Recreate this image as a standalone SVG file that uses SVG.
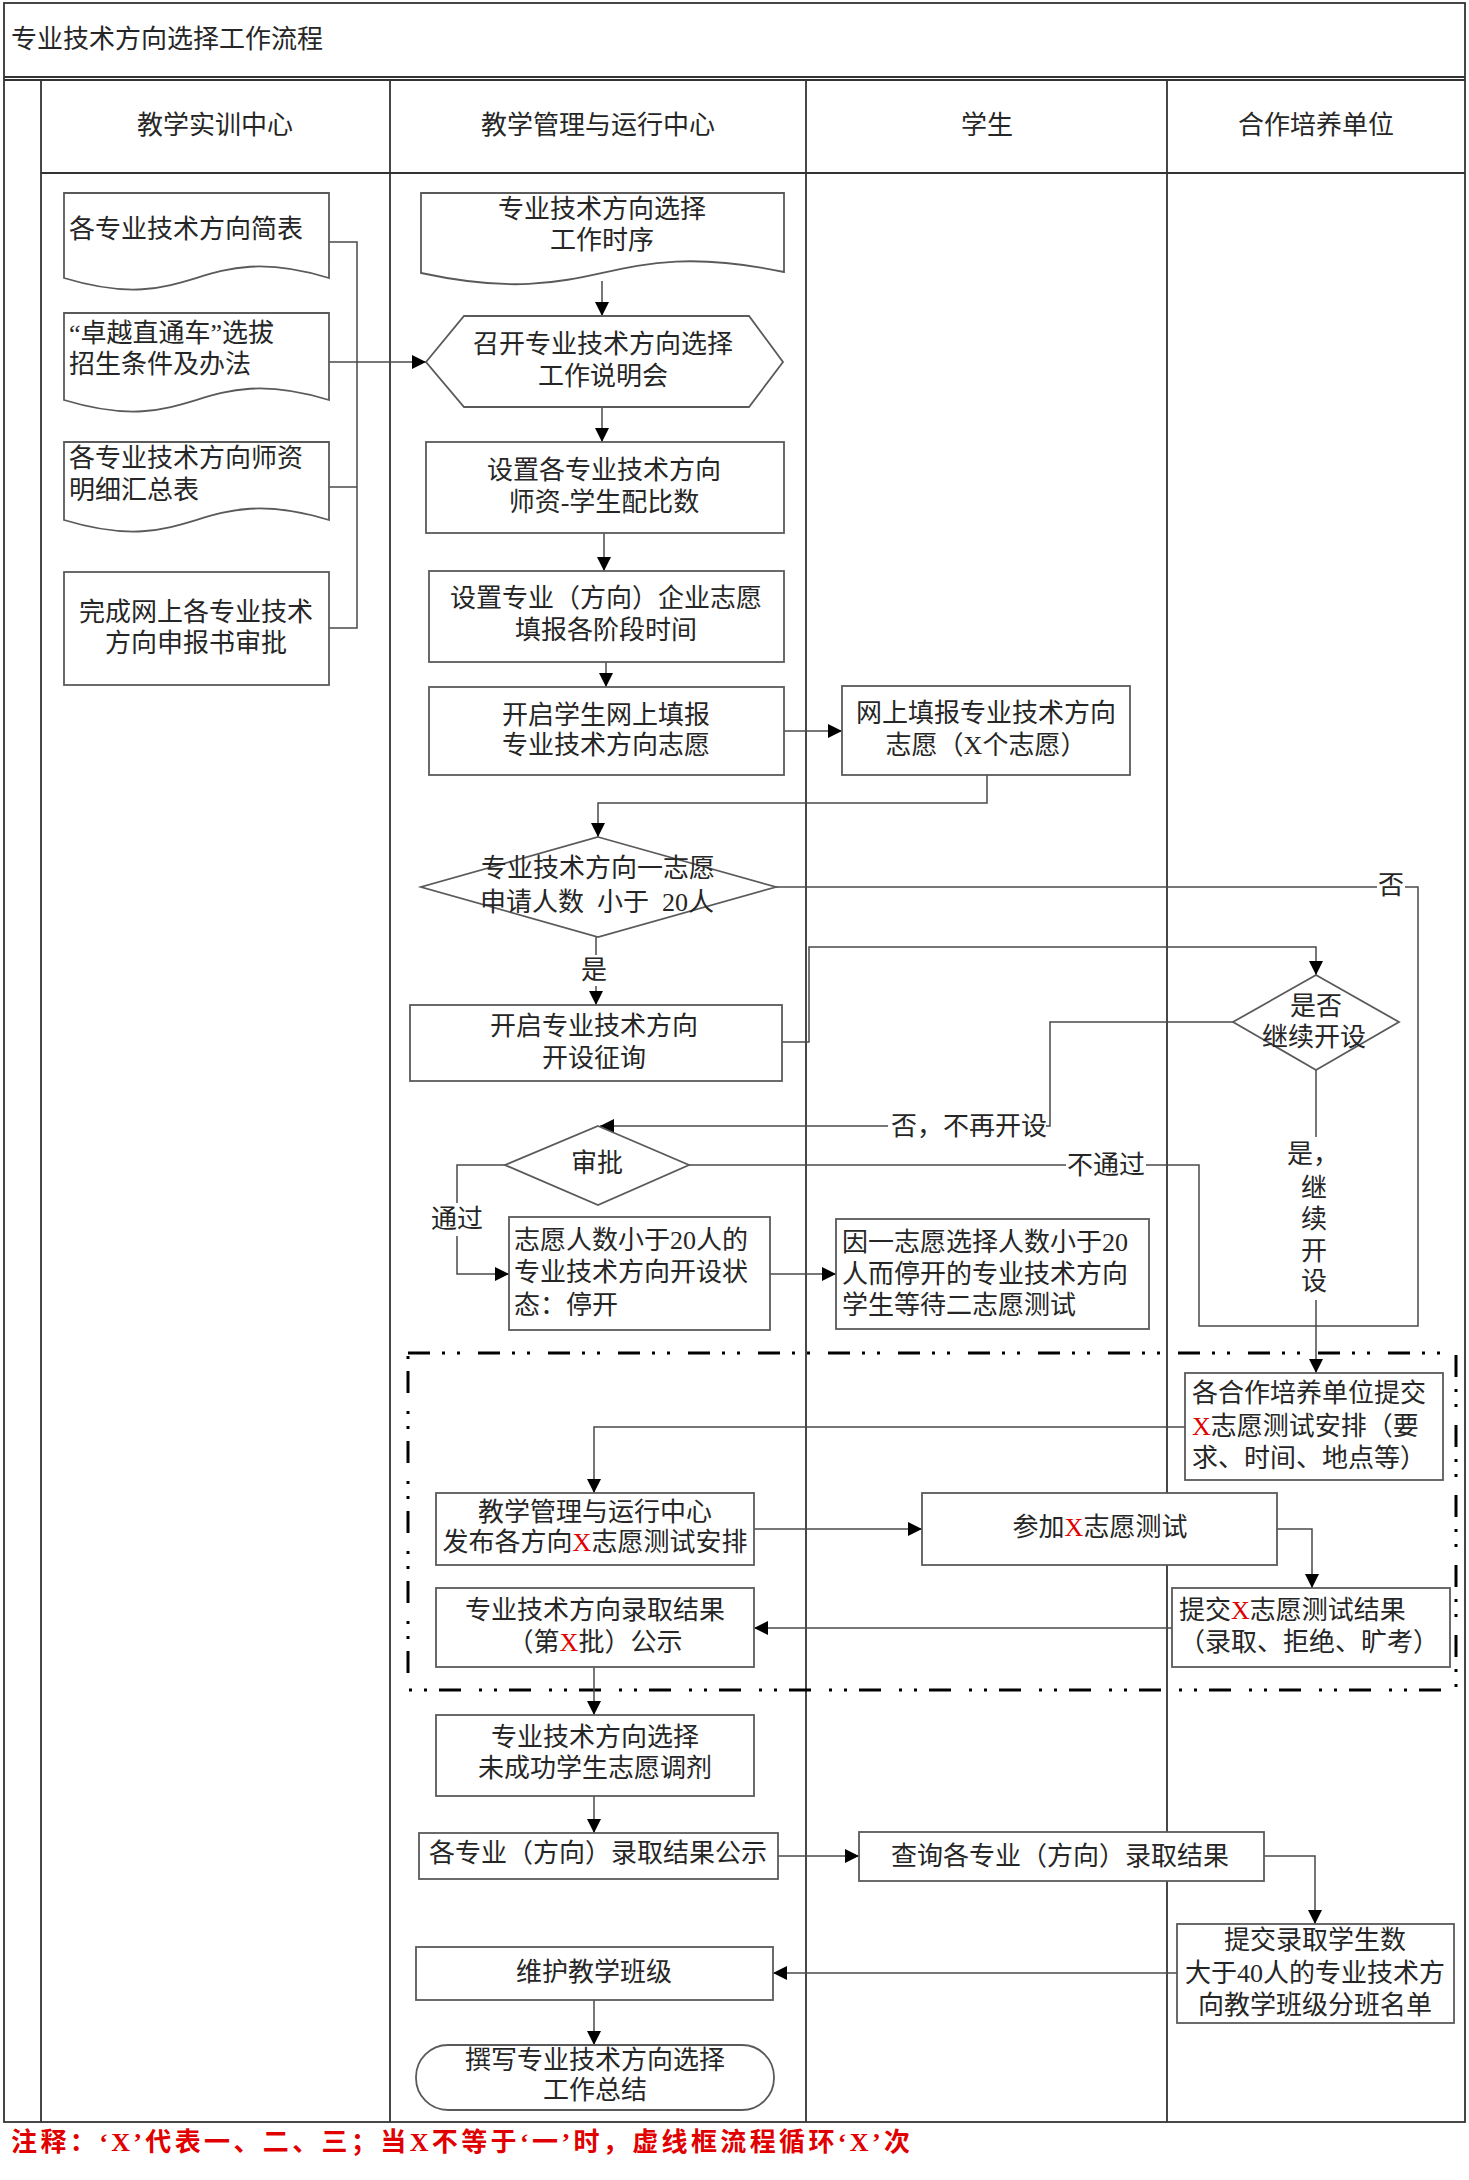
<svg xmlns="http://www.w3.org/2000/svg" width="1469" height="2180" viewBox="0 0 1469 2180">
<defs>
<style>
.fr{fill:none;stroke:#333;stroke-width:1.8}
.nd{fill:#fff;stroke:#5a5a5a;stroke-width:1.8}
.ln{fill:none;stroke:#4a4a4a;stroke-width:1.5}
.ar{fill:none;stroke:#4a4a4a;stroke-width:1.5;marker-end:url(#ah)}
.t{font-family:"Liberation Serif","Noto Sans CJK SC",serif;font-size:26px;fill:#262626}
.c{text-anchor:middle}
.e{text-anchor:end}
.x{fill:#e00000}
.note{font-family:"Liberation Serif","Noto Sans CJK SC",serif;font-size:26px;font-weight:bold;fill:#e00000}
</style>
<marker id="ah" viewBox="0 0 14 14" refX="14" refY="7" markerWidth="14" markerHeight="14" markerUnits="userSpaceOnUse" orient="auto">
<path d="M0,0 L14,7 L0,14 Z" fill="#000"/>
</marker>
</defs>
<rect width="1469" height="2180" fill="#fff"/>

<g id="frame">
<rect class="fr" x="4" y="3" width="1461" height="2119"/>
<line class="fr" x1="4" y1="77" x2="1465" y2="77"/>
<line class="fr" x1="4" y1="80" x2="1465" y2="80"/>
<line class="fr" x1="41" y1="80" x2="41" y2="2122"/>
<line class="fr" x1="41" y1="173" x2="1465" y2="173"/>
<line class="fr" x1="390" y1="80" x2="390" y2="2122"/>
<line class="fr" x1="806" y1="80" x2="806" y2="2122"/>
<line class="fr" x1="1167" y1="80" x2="1167" y2="2122"/>
<text class="t" x="11" y="48">专业技术方向选择工作流程</text>
<text class="t c" x="215" y="134">教学实训中心</text>
<text class="t c" x="598" y="134">教学管理与运行中心</text>
<text class="t c" x="987" y="134">学生</text>
<text class="t c" x="1316" y="134">合作培养单位</text>
</g>

<g id="loop-frame">
<rect x="408" y="1353" width="1048" height="337" fill="none" stroke="#000" stroke-width="3" stroke-dasharray="22 12 3 12 3 18"/>
</g>

<g id="connectors">
<polyline class="ln" points="329,242 357,242 357,628 329,628"/>
<line class="ln" x1="329" y1="487" x2="357" y2="487"/>
<line class="ln" x1="329" y1="362" x2="357" y2="362"/>
<line class="ar" x1="357" y1="362" x2="426" y2="362"/>
<line class="ar" x1="602" y1="281" x2="602" y2="316"/>
<line class="ar" x1="602" y1="407" x2="602" y2="442"/>
<line class="ar" x1="604" y1="533" x2="604" y2="571"/>
<line class="ar" x1="606" y1="662" x2="606" y2="687"/>
<line class="ar" x1="784" y1="731" x2="842" y2="731"/>
<polyline class="ar" points="987,775 987,803 598,803 598,837"/>
<line class="ln" x1="776" y1="887" x2="1377" y2="887"/>
<text class="t c" x="1391" y="894">否</text>
<polyline class="ln" points="1405,887 1418,887 1418,1326 1199,1326 1199,1165 1146,1165"/>
<line class="ln" x1="689" y1="1165" x2="1066" y2="1165"/>
<text class="t c" x="1106" y="1174">不通过</text>
<line class="ln" x1="596" y1="937" x2="596" y2="955"/>
<text class="t c" x="594" y="979">是</text>
<line class="ar" x1="596" y1="986" x2="596" y2="1005"/>
<polyline class="ar" points="782,1042 809,1042 809,947 1316,947 1316,975"/>
<polyline class="ln" points="1233,1022 1050,1022 1050,1126 1046,1126"/>
<text class="t e" x="1047" y="1135">否，不再开设</text>
<line class="ar" x1="888" y1="1126" x2="600" y2="1126"/>
<polyline class="ln" points="505,1165 457,1165 457,1203"/>
<text class="t c" x="457" y="1228">通过</text>
<polyline class="ar" points="457,1236 457,1274 509,1274"/>
<line class="ar" x1="770" y1="1274" x2="836" y2="1274"/>
<line class="ln" x1="1316" y1="1070" x2="1316" y2="1137"/>
<text class="t" x="1287" y="1163">是，</text>
<text class="t c" x="1314" y="1197">继</text>
<text class="t c" x="1314" y="1228">续</text>
<text class="t c" x="1314" y="1260">开</text>
<text class="t c" x="1314" y="1290">设</text>
<line class="ar" x1="1316" y1="1300" x2="1316" y2="1373"/>
<polyline class="ar" points="1185,1427 594,1427 594,1493"/>
<line class="ar" x1="754" y1="1529" x2="922" y2="1529"/>
<polyline class="ar" points="1277,1529 1312,1529 1312,1588"/>
<line class="ar" x1="1172" y1="1628" x2="754" y2="1628"/>
<line class="ar" x1="594" y1="1667" x2="594" y2="1715"/>
<line class="ar" x1="594" y1="1796" x2="594" y2="1833"/>
<line class="ar" x1="778" y1="1856" x2="859" y2="1856"/>
<polyline class="ar" points="1264,1856 1315,1856 1315,1924"/>
<line class="ar" x1="1177" y1="1973" x2="773" y2="1973"/>
<line class="ar" x1="594" y1="2000" x2="594" y2="2045"/>
</g>

<g id="doc-jianbiao">
<path class="nd" d="M64,193 H329 V278 C196,238 196,318 64,278 Z"/>
<text class="t" x="69" y="238">各专业技术方向简表</text>
</g>
<g id="doc-zhuoyue">
<path class="nd" d="M64,313 H329 V400 C196,360 196,440 64,400 Z"/>
<text class="t" x="69" y="342">“卓越直通车”选拔</text>
<text class="t" x="69" y="373">招生条件及办法</text>
</g>
<g id="doc-shizi">
<path class="nd" d="M64,442 H329 V520 C196,480 196,560 64,520 Z"/>
<text class="t" x="69" y="467">各专业技术方向师资</text>
<text class="t" x="69" y="499">明细汇总表</text>
</g>
<g id="box-shenbao">
<rect class="nd" x="64" y="572" width="265" height="113"/>
<text class="t c" x="196" y="621">完成网上各专业技术</text>
<text class="t c" x="196" y="652">方向申报书审批</text>
</g>

<g id="doc-shixu">
<path class="nd" d="M421,193 H784 V272 C602,234 602,312 421,273 Z"/>
<text class="t c" x="602" y="218">专业技术方向选择</text>
<text class="t c" x="602" y="249">工作时序</text>
</g>
<g id="hex-shuominghui">
<polygon class="nd" points="426,362 464,316 749,316 783,362 749,407 464,407"/>
<text class="t c" x="603" y="353">召开专业技术方向选择</text>
<text class="t c" x="603" y="385">工作说明会</text>
</g>
<g id="box-peibi">
<rect class="nd" x="426" y="442" width="358" height="91"/>
<text class="t c" x="604" y="479">设置各专业技术方向</text>
<text class="t c" x="604" y="511">师资-学生配比数</text>
</g>
<g id="box-shijian">
<rect class="nd" x="429" y="571" width="355" height="91"/>
<text class="t c" x="606" y="607">设置专业（方向）企业志愿</text>
<text class="t c" x="606" y="639">填报各阶段时间</text>
</g>
<g id="box-kaiqi">
<rect class="nd" x="429" y="687" width="355" height="88"/>
<text class="t c" x="606" y="724">开启学生网上填报</text>
<text class="t c" x="606" y="754">专业技术方向志愿</text>
</g>
<g id="box-tianbao">
<rect class="nd" x="842" y="686" width="288" height="89"/>
<text class="t c" x="986" y="722">网上填报专业技术方向</text>
<text class="t c" x="986" y="754">志愿（X个志愿）</text>
</g>
<g id="dec-renshu">
<polygon class="nd" points="598,837 776,887 598,937 421,887"/>
<text class="t c" x="598" y="877">专业技术方向一志愿</text>
<text class="t c" x="597" y="911" xml:space="preserve">申请人数  小于  20人</text>
</g>
<g id="box-zhengxun">
<rect class="nd" x="410" y="1005" width="372" height="76"/>
<text class="t c" x="594" y="1035">开启专业技术方向</text>
<text class="t c" x="594" y="1067">开设征询</text>
</g>
<g id="dec-jixu">
<polygon class="nd" points="1316,975 1399,1022 1316,1070 1233,1022"/>
<text class="t c" x="1316" y="1015">是否</text>
<text class="t c" x="1314" y="1046">继续开设</text>
</g>
<g id="dec-shenpi">
<polygon class="nd" points="598,1126 689,1165 598,1205 505,1165"/>
<text class="t c" x="597" y="1172">审批</text>
</g>
<g id="box-tingkai">
<rect class="nd" x="509" y="1217" width="261" height="113"/>
<text class="t" x="514" y="1249">志愿人数小于20人的</text>
<text class="t" x="514" y="1281">专业技术方向开设状</text>
<text class="t" x="514" y="1314">态：停开</text>
</g>
<g id="box-dengdai">
<rect class="nd" x="836" y="1219" width="313" height="110"/>
<text class="t" x="842" y="1251">因一志愿选择人数小于20</text>
<text class="t" x="842" y="1283">人而停开的专业技术方向</text>
<text class="t" x="842" y="1314">学生等待二志愿测试</text>
</g>
<g id="box-anpai-hezuo">
<rect class="nd" x="1185" y="1373" width="258" height="107"/>
<text class="t" x="1192" y="1402">各合作培养单位提交</text>
<text class="t" x="1192" y="1435"><tspan class="x">X</tspan>志愿测试安排（要</text>
<text class="t" x="1192" y="1467">求、时间、地点等）</text>
</g>
<g id="box-fabu">
<rect class="nd" x="436" y="1493" width="318" height="72"/>
<text class="t c" x="595" y="1521">教学管理与运行中心</text>
<text class="t c" x="595" y="1551">发布各方向<tspan class="x">X</tspan>志愿测试安排</text>
</g>
<g id="box-canjia">
<rect class="nd" x="922" y="1493" width="355" height="72"/>
<text class="t c" x="1100" y="1536">参加<tspan class="x">X</tspan>志愿测试</text>
</g>
<g id="box-jieguo-tijiao">
<rect class="nd" x="1172" y="1588" width="278" height="79"/>
<text class="t" x="1179" y="1619">提交<tspan class="x">X</tspan>志愿测试结果</text>
<text class="t" x="1179" y="1651">（录取、拒绝、旷考）</text>
</g>
<g id="box-gongshi-x">
<rect class="nd" x="436" y="1588" width="318" height="79"/>
<text class="t c" x="595" y="1619">专业技术方向录取结果</text>
<text class="t c" x="595" y="1651">（第<tspan class="x">X</tspan>批）公示</text>
</g>
<g id="box-tiaoji">
<rect class="nd" x="436" y="1715" width="318" height="81"/>
<text class="t c" x="595" y="1746">专业技术方向选择</text>
<text class="t c" x="595" y="1777">未成功学生志愿调剂</text>
</g>
<g id="box-gongshi">
<rect class="nd" x="419" y="1833" width="359" height="46"/>
<text class="t c" x="598" y="1862">各专业（方向）录取结果公示</text>
</g>
<g id="box-chaxun">
<rect class="nd" x="859" y="1832" width="405" height="49"/>
<text class="t c" x="1060" y="1865">查询各专业（方向）录取结果</text>
</g>
<g id="box-mingdan">
<rect class="nd" x="1177" y="1924" width="277" height="99"/>
<text class="t c" x="1315" y="1949">提交录取学生数</text>
<text class="t c" x="1315" y="1982">大于40人的专业技术方</text>
<text class="t c" x="1315" y="2014">向教学班级分班名单</text>
</g>
<g id="box-banji">
<rect class="nd" x="416" y="1947" width="357" height="53"/>
<text class="t c" x="594" y="1981">维护教学班级</text>
</g>
<g id="term-zongjie">
<rect class="nd" x="416" y="2045" width="358" height="65" rx="32" ry="32"/>
<text class="t c" x="595" y="2069">撰写专业技术方向选择</text>
<text class="t c" x="595" y="2099">工作总结</text>
</g>

<text class="note" x="11" y="2151" textLength="899" lengthAdjust="spacing">注释：‘X’代表一、二、三；当X不等于‘一’时，虚线框流程循环‘X’次</text>
</svg>
